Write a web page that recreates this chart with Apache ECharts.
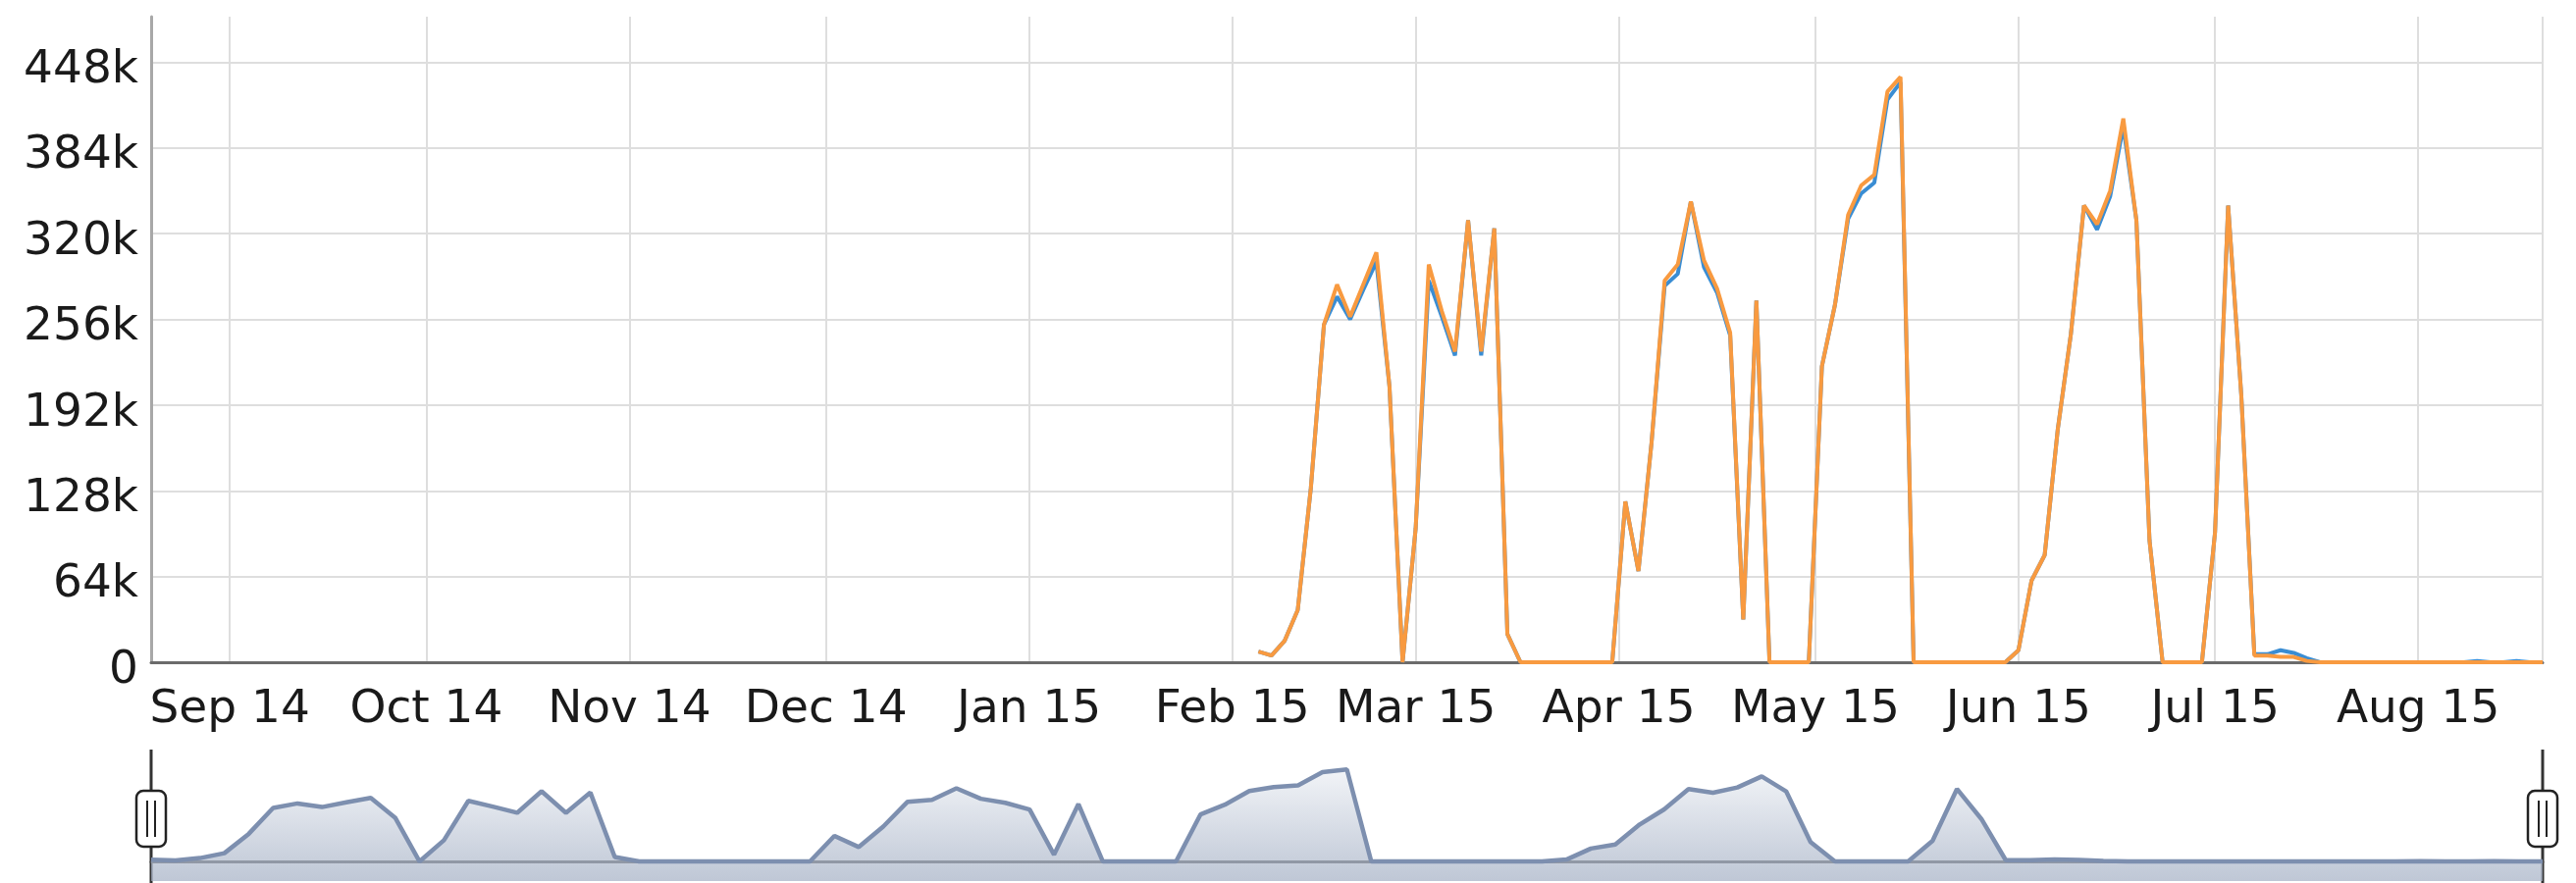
<!DOCTYPE html>
<html><head><meta charset="utf-8">
<script src="https://cdn.jsdelivr.net/npm/echarts@6/dist/echarts.min.js"></script>
<style>html,body{margin:0;padding:0;background:#fff}#c{width:2625px;height:900px}</style>
</head><body><div id="c"></div>
<script>
// sample dates (one point every second day)
const dates = [
'2015-02-05','2015-02-07','2015-02-09','2015-02-11','2015-02-13','2015-02-15','2015-02-17','2015-02-19','2015-02-21','2015-02-23',
'2015-02-25','2015-02-27','2015-03-01','2015-03-03','2015-03-05','2015-03-07','2015-03-09','2015-03-11','2015-03-13','2015-03-15',
'2015-03-17','2015-03-19','2015-03-21','2015-03-23','2015-03-25','2015-03-27','2015-03-29','2015-03-31','2015-04-02','2015-04-04',
'2015-04-06','2015-04-08','2015-04-10','2015-04-12','2015-04-14','2015-04-16','2015-04-18','2015-04-20','2015-04-22','2015-04-24',
'2015-04-26','2015-04-28','2015-04-30','2015-05-02','2015-05-04','2015-05-06','2015-05-08','2015-05-10','2015-05-12','2015-05-14',
'2015-05-16','2015-05-18','2015-05-20','2015-05-22','2015-05-24','2015-05-26','2015-05-28','2015-05-30','2015-06-01','2015-06-03',
'2015-06-05','2015-06-07','2015-06-09','2015-06-11','2015-06-13','2015-06-15','2015-06-17','2015-06-19','2015-06-21','2015-06-23',
'2015-06-25','2015-06-27','2015-06-29','2015-07-01','2015-07-03','2015-07-05','2015-07-07','2015-07-09','2015-07-11','2015-07-13',
'2015-07-15','2015-07-17','2015-07-19','2015-07-21','2015-07-23','2015-07-25','2015-07-27','2015-07-29','2015-07-31','2015-08-02',
'2015-08-04','2015-08-06','2015-08-08','2015-08-10','2015-08-12','2015-08-14','2015-08-16','2015-08-18','2015-08-20'
];
// values in thousands
const blueValues = [
8,5,16,39,130,252,273,256,278,299,
206,0,100,285,258,229,330,229,324,21,
0,0,0,0,0,0,0,0,120,68,
164,281,290,344,295,276,244,32,270,0,
0,0,0,221,267,331,350,358,420,433,
0,0,0,0,0,0,0,0,9,61,
80,174,245,341,323,348,400,330,91,0,
0,0,0,97,341,200,6,6,9,7,
3,0,0,0,0,0,0,0,0,0,
0,0,0,1,0,0,1,0,0
];
const orangeValues = [
8,5,16,39,130,252,282,258,282,306,
206,0,100,297,262,232,330,232,324,21,
0,0,0,0,0,0,0,0,120,68,
164,285,297,344,300,279,246,32,270,0,
0,0,0,221,267,334,356,364,426,437,
0,0,0,0,0,0,0,0,9,61,
80,174,245,341,327,352,406,330,91,0,
0,0,0,97,341,200,5,5,4,4,
1,0,0,0,0,0,0,0,0,0,
0,0,0,0,0,0,0,0,0
];
const monthNames = ['Jan','Feb','Mar','Apr','May','Jun','Jul','Aug','Sep','Oct','Nov','Dec'];
const yStep = 64;
const xRange = ['2014-08-20', '2015-08-20'];
const DAY = 86400000;

const FONT = 'DejaVu Sans';
const chart = echarts.init(document.getElementById('c'), null, {renderer: 'canvas'});
const gridColor = '#dedede';
const mkHandle = (x) => ({
  type: 'group',
  children: [
    {type: 'line', shape: {x1: x, y1: 764, x2: x, y2: 900}, style: {stroke: '#333', lineWidth: 3}},
    {type: 'rect', shape: {x: x - 15, y: 806, width: 30, height: 57, r: 7}, style: {fill: '#fff', stroke: '#222', lineWidth: 2.5}},
    {type: 'line', shape: {x1: x - 4, y1: 816, x2: x - 4, y2: 853}, style: {stroke: '#222', lineWidth: 2}},
    {type: 'line', shape: {x1: x + 4, y1: 816, x2: x + 4, y2: 853}, style: {stroke: '#222', lineWidth: 2}}
  ]
});
const option = {
  animation: false,
  backgroundColor: '#fff',
  grid: [
    {left: 154, right: 34, top: 17, bottom: 225},
    {left: 154, right: 34, top: 763, bottom: 2}
  ],
  xAxis: [
    {
      type: 'time', gridIndex: 0, min: xRange[0], max: xRange[1],
      splitNumber: 12, minInterval: 28 * DAY, maxInterval: 31 * DAY,
      axisLine: {show: true, lineStyle: {color: '#6b6b6b', width: 3}},
      axisTick: {show: false},
      splitLine: {show: true, lineStyle: {color: gridColor, width: 2}},
      axisLabel: {
        margin: 25, color: '#1a1a1a', fontFamily: FONT, fontSize: 47, hideOverlap: false,
        showMinLabel: false, showMaxLabel: false,
        formatter: (v) => { const d = new Date(v); return monthNames[d.getMonth()] + ' ' + String(d.getFullYear()).slice(2); }
      }
    },
    {
      type: 'category', gridIndex: 1, data: dates, boundaryGap: false,
      axisLine: {show: true, lineStyle: {color: '#4a4a4a', width: 3}},
      axisTick: {show: false}, axisLabel: {show: false}, splitLine: {show: false}
    }
  ],
  yAxis: [
    {
      type: 'value', gridIndex: 0, min: 0, max: 482, interval: yStep,
      axisLine: {show: true, lineStyle: {color: '#a8a8a8', width: 3}},
      axisTick: {show: false},
      splitLine: {show: true, lineStyle: {color: [gridColor, gridColor, gridColor, gridColor, gridColor, gridColor, gridColor, gridColor, 'rgba(0,0,0,0)'], width: 2}},
      axisLabel: {
        margin: 13, color: '#1a1a1a', fontFamily: FONT, fontSize: 47,
        verticalAlign: 'top', lineHeight: 17,
        formatter: (v) => v === 0 ? '0' : (v % yStep === 0 ? v + 'k' : '')
      }
    },
    {type: 'value', gridIndex: 1, min: -92, max: 531, show: false, splitLine: {show: false}}
  ],
  series: [
    {
      name: 'blue', type: 'line', xAxisIndex: 0, yAxisIndex: 0, showSymbol: false,
      lineStyle: {color: '#3a8dd3', width: 4}, itemStyle: {color: '#3a8dd3'},
      data: dates.map((d, i) => [d, blueValues[i]])
    },
    {
      name: 'orange', type: 'line', xAxisIndex: 0, yAxisIndex: 0, showSymbol: false,
      lineStyle: {color: '#f89a40', width: 4}, itemStyle: {color: '#f89a40'},
      data: dates.map((d, i) => [d, orangeValues[i]])
    },
    {
      name: 'navigator', type: 'line', xAxisIndex: 1, yAxisIndex: 1, showSymbol: false,
      lineStyle: {color: '#7d8faf', width: 4.5}, itemStyle: {color: '#7d8faf'},
      areaStyle: {origin: 'start', color: new echarts.graphic.LinearGradient(0, 0, 0, 1, [
        {offset: 0, color: '#eceff4'}, {offset: 1, color: '#a3afc4'}])},
      data: blueValues
    }
  ],
  graphic: [mkHandle(154), mkHandle(2591)]
};
chart.setOption(option);
</script></body></html>
